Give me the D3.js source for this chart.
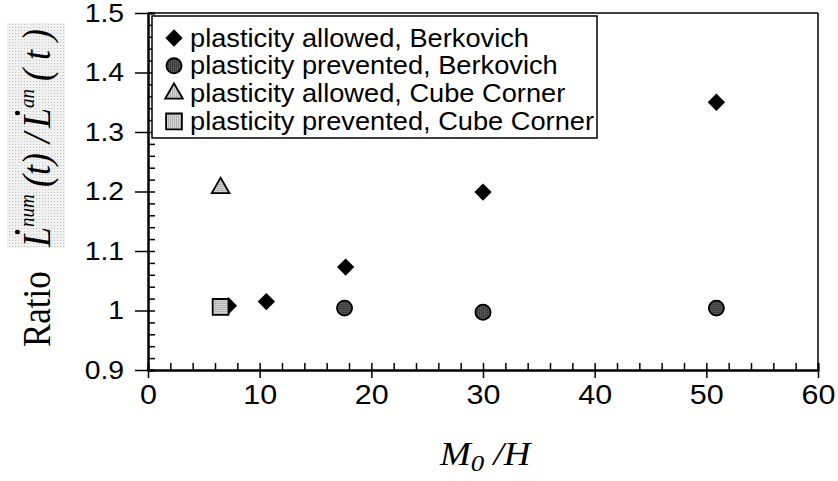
<html>
<meta charset="utf-8" />
<head>
<title>Ratio vs M0/H</title>
<script src="https://cdn.jsdelivr.net/npm/d3@7/dist/d3.min.js"></script>
<style>
	body { margin: 0; background: #fff; }
</style>
</head>
<body>
<svg id="chart" width="838" height="481"></svg>
<script>
// values
const xTickValues = [0, 10, 20, 30, 40, 50, 60];
const yTickValues = [0.9, 1.0, 1.1, 1.2, 1.3, 1.4, 1.5];
const yTickLabels = ['0.9', '1', '1.1', '1.2', '1.3', '1.4', '1.5'];

const berkAllowedX = [7.2, 10.6, 17.7, 30.0, 50.9];
const berkAllowedY = [1.008, 1.015, 1.073, 1.199, 1.350];
const berkPreventedX = [17.6, 30.0, 50.9];
const berkPreventedY = [1.004, 0.997, 1.004];
const cubeAllowedX = [6.5];
const cubeAllowedY = [1.206];
const cubePreventedX = [6.5];
const cubePreventedY = [1.006];

const legendLabels = [
	'plasticity allowed, Berkovich',
	'plasticity prevented, Berkovich',
	'plasticity allowed, Cube Corner',
	'plasticity prevented, Cube Corner'
];

const stretch = 'scale(1.09,1)';
const sans = "'Liberation Sans', Arial, sans-serif";
const serif = "'Liberation Serif', 'Times New Roman', serif";

let svg = d3.select('#chart');
let xScale = d3.scaleLinear().domain([0, 60]).range([148, 818]);
let yScale = d3.scaleLinear().domain([0.9, 1.5]).range([370, 13]);

// stipple fills, like the printed halftone
let defs = svg.append('defs');
function dots(id, base, dot, size) {
	let p = defs.append('pattern').attr('id', id).attr('patternUnits', 'userSpaceOnUse')
		.attr('width', size).attr('height', size);
	p.append('rect').attr('width', size).attr('height', size).attr('fill', base);
	p.append('rect').attr('width', 1).attr('height', 1).attr('fill', dot);
}
dots('light', '#d6d6d6', '#8a8a8a', 2);
dots('dark', '#555', '#262626', 2);
dots('paper', '#f1f1f1', '#c4c4c4', 3);

// y label background
svg.append('rect').attr('x', 7).attr('y', 23).attr('width', 58).attr('height', 225).attr('fill', 'url(#paper)');

// frame top / right
svg.append('line').attr('x1', xScale(0)).attr('x2', xScale(60)).attr('y1', yScale(1.5)).attr('y2', yScale(1.5))
	.attr('stroke', '#000').attr('stroke-width', 1.5);
svg.append('line').attr('x1', xScale(60)).attr('x2', xScale(60)).attr('y1', yScale(1.5)).attr('y2', yScale(0.9))
	.attr('stroke', '#000').attr('stroke-width', 1.5);

// minor ticks point inward
let xMinor = d3.axisBottom(xScale).tickValues(d3.range(0, 61, 2)).tickSize(-7).tickFormat('');
let yMinor = d3.axisLeft(yScale).tickValues(d3.range(0, 31).map(i => 0.9 + i * 0.02)).tickSize(-7).tickFormat('');
svg.append('g').attr('transform', 'translate(0,370)').call(xMinor);
svg.append('g').attr('transform', 'translate(148,0)').call(yMinor);

// major ticks cross outward, with labels
let xAxis = d3.axisBottom(xScale).tickValues(xTickValues).tickSizeInner(8).tickSizeOuter(0).tickPadding(6);
let yAxis = d3.axisLeft(yScale).tickValues(yTickValues).tickSizeInner(13).tickSizeOuter(0)
	.tickFormat((d, i) => yTickLabels[i]);
let xG = svg.append('g').attr('transform', 'translate(0,370)').call(xAxis);
let yG = svg.append('g').attr('transform', 'translate(148,0)').call(yAxis);

svg.selectAll('.domain').attr('stroke-width', 2);
svg.selectAll('.tick line').attr('stroke-width', 1.5);
[xG, yG].forEach(g => g.selectAll('text').attr('font-family', sans).attr('fill', '#000')
	.attr('transform', stretch));
xG.selectAll('text').attr('font-size', 28);
yG.selectAll('text').attr('font-size', 26).attr('x', -22);

// markers
const diamond = d3.symbol(d3.symbolSquare, 150);
const circle = d3.symbol(d3.symbolCircle, 180);
const triangle = d3.symbol(d3.symbolTriangle, 135);
const square = d3.symbol(d3.symbolSquare, 250);

let series = [
	{ xs: berkAllowedX, ys: berkAllowedY, path: diamond(), rot: 45, fill: '#000', stroke: 'none' },
	{ xs: berkPreventedX, ys: berkPreventedY, path: circle(), rot: 0, fill: 'url(#dark)', stroke: '#000' },
	{ xs: cubeAllowedX, ys: cubeAllowedY, path: triangle(), rot: 0, fill: 'url(#light)', stroke: '#000' },
	{ xs: cubePreventedX, ys: cubePreventedY, path: square(), rot: 0, fill: 'url(#light)', stroke: '#000' }
];

series.forEach(s => {
	svg.append('g').selectAll('path')
		.data(s.xs.map((x, i) => ({ x: x, y: s.ys[i] })))
		.enter().append('path')
		.attr('d', s.path)
		.attr('transform', d => 'translate(' + xScale(d.x) + ',' + yScale(d.y) + ') rotate(' + s.rot + ')')
		.attr('fill', s.fill)
		.attr('stroke', s.stroke)
		.attr('stroke-width', 1.8);
});

// legend
let legend = svg.append('g');
legend.append('rect').attr('x', 152).attr('y', 16).attr('width', 445).attr('height', 122)
	.attr('fill', '#fff').attr('stroke', '#000').attr('stroke-width', 1.5);
let rows = legend.selectAll('g.row').data(legendLabels).enter().append('g')
	.attr('class', 'row')
	.attr('transform', (d, i) => 'translate(174,' + (38 + i * 27.8) + ')');
rows.append('path')
	.attr('d', (d, i) => series[i].path)
	.attr('transform', (d, i) => 'rotate(' + series[i].rot + ')')
	.attr('fill', (d, i) => series[i].fill)
	.attr('stroke', (d, i) => series[i].stroke)
	.attr('stroke-width', 1.8);
rows.append('text')
	.attr('transform', 'translate(16,8.5) ' + stretch)
	.attr('font-family', sans).attr('font-size', 25)
	.text(d => d);

// x axis title  M0 /H
let xt = svg.append('text').attr('transform', 'translate(440,465) scale(1.12,1)')
	.attr('font-family', serif).attr('font-style', 'italic').attr('font-size', 33);
xt.append('tspan').text('M');
xt.append('tspan').attr('font-size', 24).attr('dy', 6).text('0');
xt.append('tspan').attr('dy', -6).text(' /H');

// y axis title, rotated
let yt = svg.append('g').attr('transform', 'translate(50,247) rotate(-90) scale(1,1.12)');
yt.append('text').attr('x', -100).attr('font-family', serif).attr('font-size', 35).text('Ratio');
let math = yt.append('text').attr('font-family', serif).attr('font-style', 'italic').attr('font-size', 36);
math.append('tspan').attr('x', 0).text('L');
math.append('tspan').attr('font-size', 19).attr('dy', -14).text('num');
math.append('tspan').attr('x', 60).attr('dy', 14).text('(t)');
math.append('tspan').attr('x', 104).text('/');
math.append('tspan').attr('x', 119).text('L');
math.append('tspan').attr('font-size', 19).attr('dy', -14).text('an');
math.append('tspan').attr('x', 166).attr('dy', 14).text('( t )');

// dots over the two L's
[0, 8].forEach(idx => {
	let b = math.node().getExtentOfChar(idx);
	yt.append('circle').attr('cx', b.x + b.width * 0.75).attr('cy', b.y + 3).attr('r', 2.3).attr('fill', '#000');
});
</script>
</body>
</html>
